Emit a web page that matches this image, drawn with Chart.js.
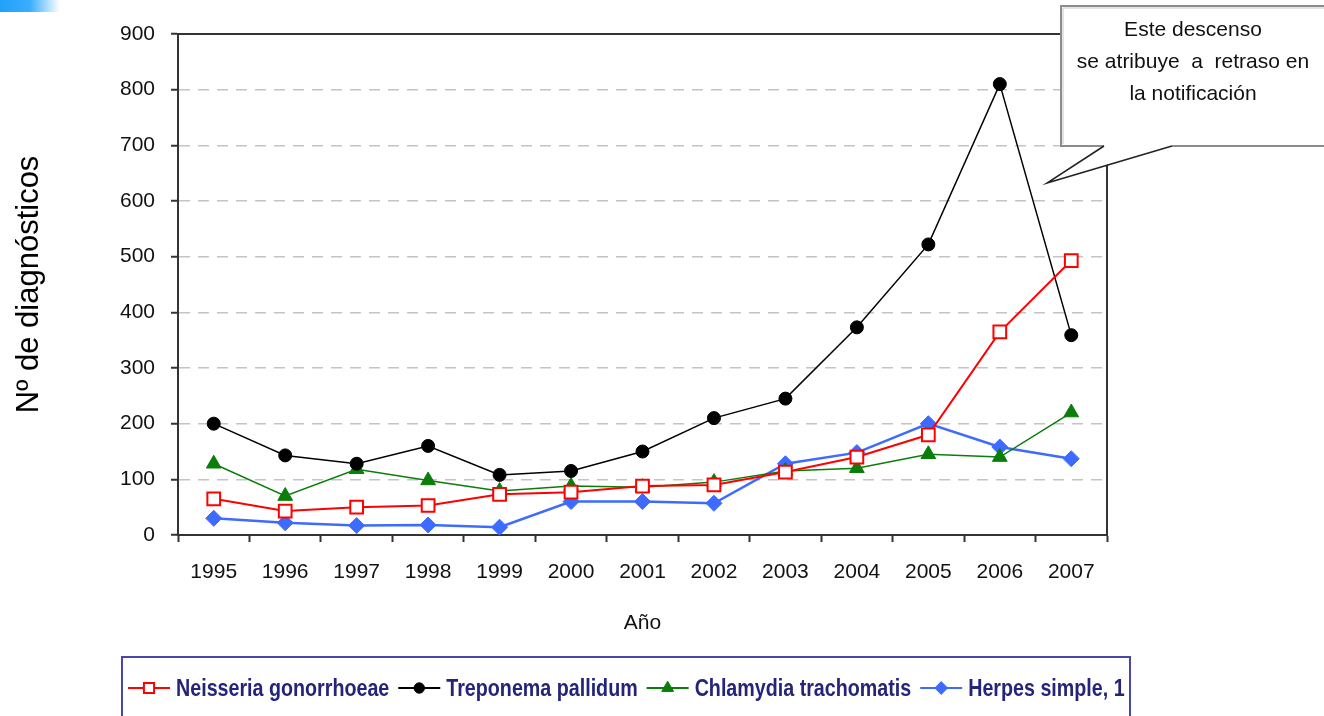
<!DOCTYPE html>
<html><head><meta charset="utf-8">
<script src="https://cdn.jsdelivr.net/npm/chart.js@4.4.0/dist/chart.umd.min.js"></script>
<style>
html,body{margin:0;padding:0;background:#fff;overflow:hidden}
#c{display:block}
#corner{position:absolute;left:0;top:0;width:60px;height:12px;background:linear-gradient(to right,#22a0f8 0%,#3aaeff 50%,#ffffff 100%)}
</style></head><body>
<canvas id="c" width="1324" height="716"></canvas>
<div id="corner"></div>
<script>
const years = ['1995','1996','1997','1998','1999','2000','2001','2002','2003','2004','2005','2006','2007'];
const neisseria = [65,43,50,53,73,77,88,90,113,140,180,365,493];
const treponema = [200,143,128,160,108,115,150,210,245,373,522,810,359];
const chlamydia = [128,70,118,98,79,88,86,95,115,120,145,140,220];
const herpes = [30,22,17,18,14,60,60,57,128,148,200,158,137];
const yMin = 0, yMax = 900, yStep = 100;
const calloutLines = ['Este descenso','se atribuye  a  retraso en','la notificación'];
const FONT = '"Liberation Sans", Arial, sans-serif';

function drawMarker(ctx, ds, x, y, r){
  const opts = {pointStyle: ds.pointStyle, radius: r, rotation: 0, borderWidth: ds.pointBorderWidth || 1};
  ctx.fillStyle = ds.pointBackgroundColor;
  ctx.strokeStyle = ds.pointBorderColor;
  ctx.lineWidth = opts.borderWidth;
  Chart.helpers.drawPoint(ctx, opts, x, y);
}

const decor = {
  id: 'decor',
  afterDraw(chart){
    const ctx = chart.ctx, a = chart.chartArea;
    ctx.save();
    // plot frame top and right
    ctx.strokeStyle = '#333'; ctx.lineWidth = 2; ctx.setLineDash([]);
    ctx.beginPath(); ctx.moveTo(a.left, a.top); ctx.lineTo(a.right, a.top); ctx.lineTo(a.right, a.bottom); ctx.stroke();

    // callout box
    const bx = 1061, by = 6, bb = 146, br = 1340;
    const t1 = 1104, t2 = 1172, tipX = 1047, tipY = 183;
    ctx.fillStyle = '#fff';
    ctx.beginPath(); ctx.rect(bx, by, br - bx, bb - by); ctx.fill();
    ctx.beginPath(); ctx.moveTo(t1, bb - 1); ctx.lineTo(tipX, tipY); ctx.lineTo(t2, bb - 1); ctx.closePath(); ctx.fill();
    ctx.strokeStyle = '#c8c8c8'; ctx.lineWidth = 1;
    ctx.beginPath(); ctx.moveTo(bx + 2, bb - 2); ctx.lineTo(bx + 2, by + 2); ctx.lineTo(br, by + 2); ctx.stroke();
    ctx.strokeStyle = '#8c8c8c'; ctx.lineWidth = 2;
    ctx.beginPath(); ctx.moveTo(t1, bb); ctx.lineTo(bx, bb); ctx.lineTo(bx, by); ctx.lineTo(br, by); ctx.stroke();
    ctx.beginPath(); ctx.moveTo(t2, bb); ctx.lineTo(br, bb); ctx.stroke();
    ctx.strokeStyle = '#222'; ctx.lineWidth = 1.5;
    ctx.beginPath(); ctx.moveTo(t1, bb); ctx.lineTo(tipX, tipY); ctx.lineTo(t2, bb); ctx.stroke();
    ctx.fillStyle = '#111'; ctx.font = '21px ' + FONT; ctx.textAlign = 'center'; ctx.textBaseline = 'middle';
    calloutLines.forEach((s, i) => ctx.fillText(s, 1193, 30 + i * 32));

    // legend
    const lx = 122, ly = 657, lr = 1130;
    ctx.strokeStyle = '#4848a8'; ctx.lineWidth = 2;
    ctx.strokeRect(lx, ly, lr - lx, 80);
    ctx.save();
    ctx.beginPath(); ctx.rect(lx + 1, ly + 1, lr - lx - 3, 60); ctx.clip();
    let x = 128; const y = 688;
    chart.data.datasets.forEach(ds => {
      ctx.strokeStyle = ds.borderColor; ctx.lineWidth = 2; ctx.setLineDash([]);
      ctx.beginPath(); ctx.moveTo(x, y); ctx.lineTo(x + 42, y); ctx.stroke();
      drawMarker(ctx, ds, x + 21, y, ds.pointRadius * 0.8);
      ctx.save();
      ctx.translate(x + 48, y);
      ctx.scale(0.82, 1);
      ctx.font = 'bold 24px ' + FONT; ctx.fillStyle = '#24247a';
      ctx.textAlign = 'left'; ctx.textBaseline = 'middle';
      ctx.fillText(ds.label, 0, 1);
      const w = ctx.measureText(ds.label).width * 0.82;
      ctx.restore();
      x = x + 48 + w + 9;
    });
    ctx.restore();
    ctx.restore();
  }
};

new Chart(document.getElementById('c'), {
  type: 'line',
  data: {
    labels: years,
    datasets: [
      {label: 'Neisseria gonorrhoeae', data: neisseria, borderColor: '#ff0000', backgroundColor: '#fff', borderWidth: 2,
       pointStyle: 'rect', pointRadius: 9, pointBorderWidth: 2, pointBackgroundColor: '#ffffff', pointBorderColor: '#ff0000'},
      {label: 'Treponema pallidum', data: treponema, borderColor: '#000000', backgroundColor: '#000', borderWidth: 1.5,
       pointStyle: 'circle', pointRadius: 6.5, pointBorderWidth: 1, pointBackgroundColor: '#000000', pointBorderColor: '#000000'},
      {label: 'Chlamydia trachomatis', data: chlamydia, borderColor: '#0a7d0a', backgroundColor: '#0a7d0a', borderWidth: 1.5,
       pointStyle: 'triangle', pointRadius: 8.5, pointBorderWidth: 1, pointBackgroundColor: '#0a7d0a', pointBorderColor: '#0a7d0a'},
      {label: 'Herpes simple, 1 y 2', data: herpes, borderColor: '#3d6bff', backgroundColor: '#3d6bff', borderWidth: 2.5,
       pointStyle: 'rectRot', pointRadius: 8, pointBorderWidth: 1, pointBackgroundColor: '#3d6bff', pointBorderColor: '#3d6bff'}
    ]
  },
  options: {
    responsive: false, animation: false, events: [],
    layout: {padding: {left: 0, top: 34, right: 217, bottom: 61}},
    plugins: {legend: {display: false}, tooltip: {enabled: false}},
    elements: {line: {tension: 0, fill: false}},
    scales: {
      x: {
        type: 'category', offset: true,
        grid: {offset: true, drawOnChartArea: false, drawTicks: true, tickLength: 7, tickColor: '#333', tickWidth: 2},
        border: {color: '#333', width: 2},
        ticks: {color: '#111', font: {family: FONT, size: 21}, padding: 18, maxRotation: 0, autoSkip: false},
        title: {display: true, text: 'Año', color: '#111', font: {family: FONT, size: 21}, padding: {top: 0, bottom: 19}},
        afterFit(s){ s.height = 120; }
      },
      y: {
        min: yMin, max: yMax,
        ticks: {stepSize: yStep, color: '#111', font: {family: FONT, size: 21}, padding: 16},
        grid: {
          color: c => (c.tick && (c.tick.value === yMin || c.tick.value === yMax)) ? 'rgba(0,0,0,0)' : '#c4c4c4',
          lineWidth: 1.5, tickColor: '#333', tickLength: 7, tickWidth: 2, tickBorderDash: []
        },
        border: {color: '#333', width: 2, dash: [11, 8]},
        title: {display: true, text: 'Nº de diagnósticos', color: '#000', font: {family: FONT, size: 31}, padding: {top: 11, bottom: 0}},
        afterFit(s){ s.width = 178; }
      }
    }
  },
  plugins: [decor]
});
</script>
</body></html>
